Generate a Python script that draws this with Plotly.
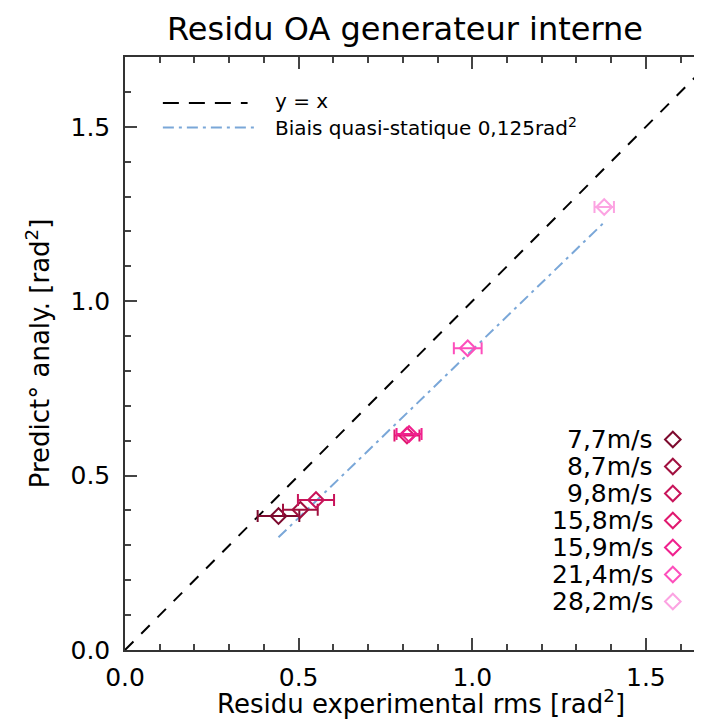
import plotly.graph_objects as go

# ---- data ----
speeds = ["7,7m/s", "8,7m/s", "9,8m/s", "15,8m/s", "15,9m/s", "21,4m/s", "28,2m/s"]
resid_exp = [0.442, 0.505, 0.550, 0.812, 0.818, 0.987, 1.380]
pred_analy = [0.384, 0.402, 0.430, 0.615, 0.619, 0.865, 1.270]
resid_err = [0.060, 0.050, 0.052, 0.036, 0.036, 0.040, 0.028]
colors = ["#7d0a2e", "#a1103f", "#c8145a", "#e0196f", "#f0218e", "#fd4fbc", "#fca3e2"]

ident_x = [0.0, 1.7]
ident_y = [0.0, 1.7]
bias_x = [0.442, 1.380]
bias_y = [0.323, 1.226]

x_ticks = [0.0, 0.5, 1.0, 1.5]
y_ticks = [0.0, 0.5, 1.0, 1.5]

FONT = "DejaVu Sans"
L, R, T, B = 117, 1, 49, 86
PW, PH = 702 - L - R, 728 - T - B


def px(x):
    return (x - L) / PW


def py(y):
    return (728 - B - y) / PH


fig = go.Figure()

fig.add_trace(go.Scatter(x=ident_x, y=ident_y, mode="lines",
                         line=dict(color="black", width=2, dash="12px,11px"),
                         showlegend=False, hoverinfo="skip"))
fig.add_trace(go.Scatter(x=bias_x, y=bias_y, mode="lines",
                         line=dict(color="#7aa7d8", width=2, dash="11px,5px,3px,5px"),
                         showlegend=False, hoverinfo="skip"))

for xs, ys, ex, c in zip(resid_exp, pred_analy, resid_err, colors):
    fig.add_trace(go.Scatter(
        x=[xs], y=[ys], mode="markers",
        marker=dict(symbol="diamond-open", size=12, color=c, line=dict(width=2, color=c)),
        error_x=dict(type="data", array=[ex], color=c, thickness=2, width=6),
        showlegend=False))

# legend diamonds on an overlay axis (plot-fraction coordinates)
leg_rows_px = [431.5 + 27.0 * i for i in range(len(speeds))]
leg_rows = [py(v) for v in leg_rows_px]
fig.add_trace(go.Scatter(
    x=[px(666.7)] * len(speeds), y=leg_rows, xaxis="x2", yaxis="y2", mode="markers",
    marker=dict(symbol="diamond-open", size=12, color=colors, line=dict(width=2, color=colors)),
    showlegend=False, hoverinfo="skip"))

annotations = []
for lab, yy in zip(speeds, leg_rows):
    annotations.append(dict(text=lab, x=px(649), y=yy, xref="paper", yref="paper",
                            xanchor="right", yanchor="middle", showarrow=False,
                            font=dict(family=FONT, size=25, color="black")))

# top-left legend
annotations.append(dict(text="y = x", x=px(266), y=py(93), xref="paper", yref="paper",
                        xanchor="left", yanchor="middle", showarrow=False,
                        font=dict(family=FONT, size=20, color="black")))
annotations.append(dict(text="Biais quasi-statique 0,125rad<sup>2</sup>", x=px(266), y=py(119),
                        xref="paper", yref="paper", xanchor="left", yanchor="middle",
                        showarrow=False, font=dict(family=FONT, size=20, color="black")))
# axis titles
annotations.append(dict(text="Residu experimental rms [rad<sup>2</sup>]", x=px(414), y=py(694),
                        xref="paper", yref="paper", xanchor="center", yanchor="middle",
                        showarrow=False, font=dict(family=FONT, size=26, color="black")))
annotations.append(dict(text="Predict° analy. [rad<sup>2</sup>]", x=px(30), y=py(345),
                        xref="paper", yref="paper", xanchor="center", yanchor="middle",
                        textangle=-90, showarrow=False, font=dict(family=FONT, size=26, color="black")))

shapes = [
    dict(type="line", xref="paper", yref="paper", x0=px(155), x1=px(240), y0=py(95), y1=py(95),
         line=dict(color="black", width=2, dash="16px,10px")),
    dict(type="line", xref="paper", yref="paper", x0=px(155), x1=px(250), y0=py(119.5), y1=py(119.5),
         line=dict(color="#7aa7d8", width=2, dash="11px,5px,3px,5px")),
]

axis_common = dict(showline=True, linecolor="#333", linewidth=1.5, mirror="ticks",
                   ticks="inside", ticklen=12, tickwidth=1.5, tickcolor="#444",
                   showgrid=False, zeroline=False,
                   tickfont=dict(family=FONT, size=25, color="black"),
                   minor=dict(ticks="inside", ticklen=6, dtick=0.1, tickwidth=1.5, tickcolor="#444",
                              showgrid=False))

fig.update_layout(
    width=702, height=728,
    margin=dict(l=L, r=R, t=T, b=B),
    paper_bgcolor="white", plot_bgcolor="white",
    title=dict(text="Residu OA generateur interne", x=397 / 702, y=1 - 21 / 728,
               xanchor="center", yanchor="middle", xref="container", yref="container",
               font=dict(family=FONT, size=32, color="black")),
    xaxis=dict(range=[0, 1.676], tickvals=x_ticks, ticktext=["%.1f" % v for v in x_ticks],
               ticklabelstandoff=4, **axis_common),
    yaxis=dict(range=[0, 1.7], tickvals=y_ticks, ticktext=["%.1f" % v for v in y_ticks],
               ticklabelstandoff=8, **axis_common),
    xaxis2=dict(overlaying="x", range=[0, 1], visible=False, anchor="y2"),
    yaxis2=dict(overlaying="y", range=[0, 1], visible=False, anchor="x2"),
    annotations=annotations,
    shapes=shapes,
    showlegend=False,
)

fig.write_html("out.html")
